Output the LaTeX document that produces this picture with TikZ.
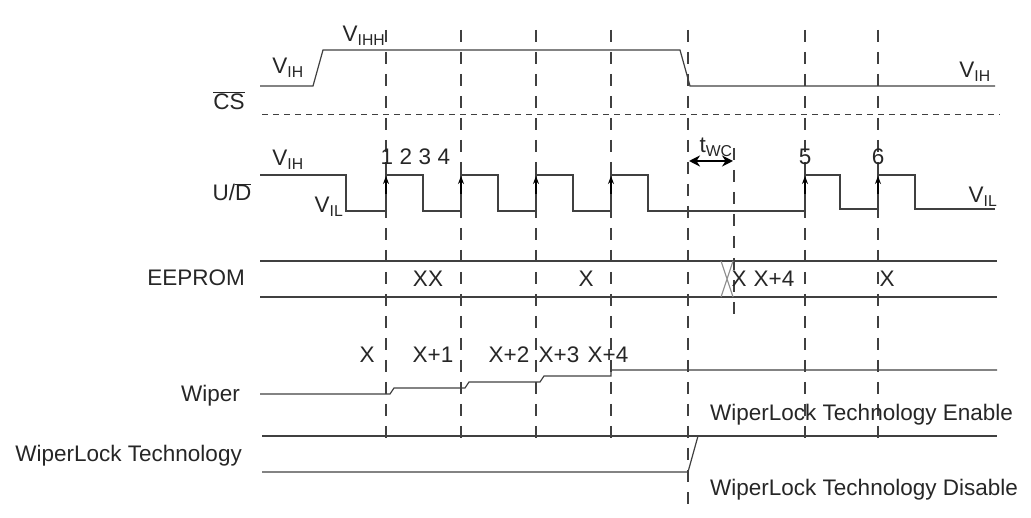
\documentclass[tikz,border=0pt]{standalone}
\usepackage{fontspec}
\setmainfont{Liberation Sans}
\usetikzlibrary{arrows.meta}
\begin{document}
\begin{tikzpicture}[x=1pt,y=-1pt,
  sig/.style={draw=black!75,line width=1.2pt},
  grid/.style={draw=black!75,line width=1.1pt,dash pattern=on 12pt off 10pt},
  lbl/.style={font=\fontsize{22.5}{22.5}\selectfont,inner sep=0pt,text=black!85}]
\useasboundingbox (0,0) rectangle (1031,518);
% verticals
\foreach \x in {386,461,536,611,805,878} \draw[grid] (\x,30) -- (\x,438);
\draw[grid] (688,30) -- (688,512);
\draw[grid] (734,148) -- (734,318);
% CS
\draw[sig] (260,86) -- (313,86) -- (323,50) -- (680,50) -- (690,86) -- (995,86);
\draw[draw=black!75,line width=1pt,dash pattern=on 6pt off 5pt] (262,115) -- (1000,115);
\node[lbl] at (288,68) {V\textsubscript{IH}};
\node[lbl] at (364,36) {V\textsubscript{IHH}};
\node[lbl] at (975,72) {V\textsubscript{IH}};
\node[lbl] at (229,101) {$\overline{\mbox{CS}}$};
% U/D
\draw[sig] (260,175) -- (346,175) -- (346,211) -- (386,211) -- (386,175) -- (423,175) -- (423,211)
 -- (461,211) -- (461,175) -- (498,175) -- (498,211) -- (536,211) -- (536,175) -- (573,175) -- (573,211)
 -- (611,211) -- (611,175) -- (648,175) -- (648,211) -- (805,211) -- (805,175) -- (840,175) -- (840,209)
 -- (878,209) -- (878,175) -- (915,175) -- (915,209) -- (995,209);
\foreach \x in {386,461,536,611,805,878} \draw[-{Stealth[length=8pt,width=6pt]},black,line width=1.2pt] (\x,194) -- (\x,176);
\node[lbl] at (288,160) {V\textsubscript{IH}};
\node[lbl] at (329,207) {V\textsubscript{IL}};
\node[lbl] at (983,197) {V\textsubscript{IL}};
\node[lbl] at (232,192) {U/$\overline{\mbox{D}}$};
\foreach \x/\t in {387/1,406/2,425/3,444/4,805/5,878/6} \node[lbl] at (\x,157) {\t};
\node[lbl] at (716,147) {t\textsubscript{WC}};
\draw[line width=2pt,{Stealth[length=11pt,width=11pt]}-{Stealth[length=11pt,width=11pt]}] (689,161) -- (733,161);
% EEPROM
\draw[sig] (260,261) -- (997,261);
\draw[sig] (260,297) -- (997,297);
\draw[black!45,line width=1.1pt] (721,261) -- (733,297) (733,261) -- (721,297);
\node[lbl,anchor=east] at (245,278) {EEPROM};
\foreach \x/\t in {428/XX,586/X,739/X,774/X+4,887/X} \node[lbl] at (\x,279) {\t};
% Wiper
\draw[sig] (260,394) -- (390,394) -- (394,388) -- (465,388) -- (469,382) -- (540,382) -- (544,376) -- (611,376) -- (611,370) -- (997,370);
\node[lbl,anchor=east] at (240,396) {Wiper};
\foreach \x/\t in {367/X,433/X+1,509/X+2,559/X+3,608/X+4} \node[lbl] at (\x,355) {\t};
% WiperLock
\draw[sig] (262,436) -- (997,436);
\draw[sig] (262,472) -- (688,472) -- (698,436);
\node[lbl,anchor=east] at (242,456) {WiperLock Technology};
\node[lbl,anchor=west] at (710,415) {WiperLock Technology Enable};
\node[lbl,anchor=west] at (710,490) {WiperLock Technology Disable};
\end{tikzpicture}
\end{document}
